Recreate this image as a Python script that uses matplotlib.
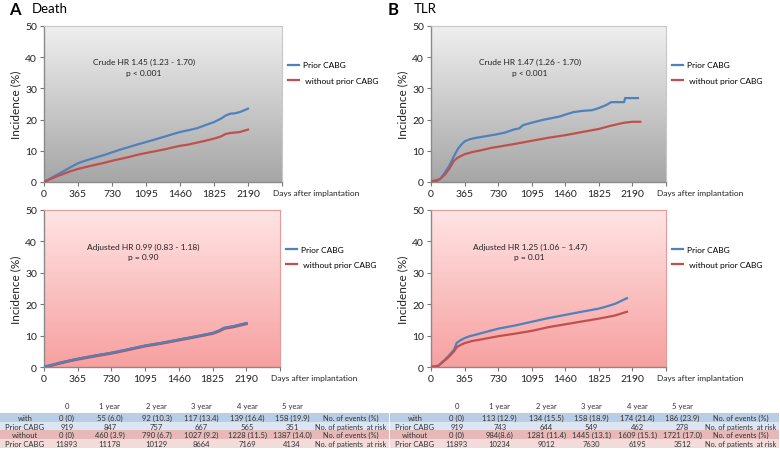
import numpy as np
import matplotlib
matplotlib.use("Agg")
import matplotlib.pyplot as plt
from matplotlib.patches import Rectangle

plt.rcParams['font.family'] = ['Lato', 'DejaVu Sans']

# --- data ---
# Death, crude
death_crude_prior_t = [0, 60, 120, 182, 270, 365, 450, 550, 640, 730, 820, 910, 1000, 1095, 1200, 1300,
                       1400, 1460, 1550, 1640, 1730, 1825, 1900, 1950, 2000, 2050, 2100, 2150, 2190]
death_crude_prior_y = [0, 1.0, 2.0, 3.0, 4.5, 6.0, 6.9, 7.8, 8.6, 9.5, 10.4, 11.2, 12.0, 12.8, 13.7, 14.6,
                       15.5, 16.0, 16.6, 17.2, 18.2, 19.2, 20.3, 21.3, 21.9, 22.0, 22.4, 23.0, 23.5]
death_crude_wo_t = [0, 60, 120, 182, 270, 365, 450, 550, 640, 730, 820, 910, 1000, 1095, 1200, 1300,
                    1400, 1460, 1550, 1640, 1730, 1825, 1900, 1950, 2000, 2100, 2190]
death_crude_wo_y = [0, 0.8, 1.6, 2.3, 3.3, 4.2, 4.8, 5.5, 6.1, 6.8, 7.4, 8.0, 8.7, 9.3, 9.9, 10.5,
                    11.2, 11.6, 12.0, 12.6, 13.2, 13.9, 14.6, 15.4, 15.7, 16.0, 16.8]

# Death, adjusted
death_adj_t = [0, 90, 182, 270, 365, 550, 730, 910, 1095, 1280, 1460, 1640, 1825, 1900, 1950, 2050, 2190]
death_adj_prior_y = [0, 0.7, 1.4, 2.0, 2.6, 3.6, 4.5, 5.6, 6.8, 7.7, 8.7, 9.7, 10.8, 11.6, 12.5, 13.0, 14.0]
death_adj_wo_y = [0, 0.6, 1.3, 1.9, 2.5, 3.5, 4.4, 5.5, 6.7, 7.6, 8.6, 9.6, 10.7, 11.5, 12.3, 12.8, 13.8]

# TLR, crude
tlr_crude_prior_t = [0, 60, 100, 150, 200, 250, 290, 330, 365, 420, 500, 600, 700, 800, 900, 960, 1000,
                     1095, 1200, 1300, 1400, 1460, 1550, 1650, 1750, 1825, 1900, 1960, 2100, 2110, 2250]
tlr_crude_prior_y = [0, 0.3, 1.0, 3.0, 5.3, 8.3, 10.5, 12.0, 13.0, 13.7, 14.2, 14.7, 15.2, 15.8, 16.8, 17.2,
                     18.2, 19.0, 19.8, 20.4, 21.0, 21.6, 22.4, 22.8, 23.0, 23.7, 24.6, 25.6, 25.6, 26.9, 26.9]
tlr_crude_wo_t = [0, 60, 100, 150, 200, 250, 290, 365, 450, 550, 650, 730, 910, 1095, 1280, 1460,
                  1640, 1825, 1950, 2100, 2190, 2275]
tlr_crude_wo_y = [0.2, 0.6, 1.0, 2.3, 4.3, 6.8, 7.8, 8.9, 9.6, 10.2, 10.9, 11.3, 12.2, 13.2, 14.2, 15.0,
                  16.0, 17.0, 18.0, 19.0, 19.3, 19.3]

# TLR, adjusted
tlr_adj_prior_t = [0, 80, 150, 200, 250, 280, 320, 365, 420, 500, 600, 730, 910, 1095, 1280, 1460,
                   1640, 1825, 1900, 2000, 2130]
tlr_adj_prior_y = [0, 0.4, 2.3, 3.8, 5.5, 7.7, 8.5, 9.2, 9.8, 10.4, 11.2, 12.2, 13.2, 14.4, 15.6, 16.6,
                   17.6, 18.6, 19.2, 20.1, 21.9]
tlr_adj_wo_t = [0, 80, 150, 200, 250, 280, 320, 365, 450, 550, 730, 910, 1095, 1280, 1460, 1640,
                1825, 2000, 2130]
tlr_adj_wo_y = [0, 0.4, 2.1, 3.4, 5.0, 6.3, 7.0, 7.6, 8.3, 8.8, 9.8, 10.6, 11.5, 12.7, 13.6, 14.5,
                15.4, 16.4, 17.6]

x_ticks = [0, 365, 730, 1095, 1460, 1825, 2190, 2555]
x_tick_labels = ["0", "365", "730", "1095", "1460", "1825", "2190", ""]
y_ticks = [0, 10, 20, 30, 40, 50]

# tables
table_header = ["0", "1 year", "2 year", "3 year", "4 year", "5 year"]
row_labels = ["with", "Prior CABG", "without", "Prior CABG"]
row_kinds = ["No. of events (%)", "No. of patients  at risk", "No. of events (%)", "No. of patients  at risk"]
death_table = [
    ["0 (0)", "55 (6.0)", "92 (10.3)", "117 (13.4)", "139 (16.4)", "158 (19.9)"],
    ["919", "847", "757", "667", "565", "351"],
    ["0 (0)", "460 (3.9)", "790 (6.7)", "1027 (9.2)", "1228 (11.5)", "1387 (14.0)"],
    ["11893", "11178", "10129", "8664", "7169", "4134"],
]
tlr_table = [
    ["0 (0)", "113 (12.9)", "134 (15.5)", "158 (18.9)", "174 (21.4)", "186 (23.9)"],
    ["919", "743", "644", "549", "462", "278"],
    ["0 (0)", "984(8.6)", "1281 (11.4)", "1445 (13.1)", "1609 (15.1)", "1721 (17.0)"],
    ["11893", "10234", "9012", "7630", "6195", "3512"],
]

BLUE = "#4f81bd"
RED = "#c0504d"
W, H = 780, 452


def fig_rect(x0, y0, x1, y1):
    """pixel box (top-left origin) -> figure fraction rect"""
    return [x0 / W, 1 - y1 / H, (x1 - x0) / W, (y1 - y0) / H]


def gradient_bg(ax, top, bottom):
    top = np.array(matplotlib.colors.to_rgb(top))
    bottom = np.array(matplotlib.colors.to_rgb(bottom))
    f = np.linspace(0, 1, 256)[:, None]
    img = top * (1 - f) + bottom * f
    ax.imshow(img[:, None, :], extent=[0, 1, 0, 1], transform=ax.transAxes,
              aspect='auto', zorder=0, interpolation='bilinear')


def make_panel(rect, bg, edge, curves, note):
    ax = fig.add_axes(fig_rect(*rect))
    gradient_bg(ax, *bg)
    for t, y, c, lw in curves:
        ax.plot(t, y, color=c, lw=lw, zorder=3, solid_joinstyle='round')
    ax.set_xlim(0, 2555)
    ax.set_ylim(0, 50)
    ax.set_xticks(x_ticks)
    ax.set_xticklabels(x_tick_labels)
    ax.set_yticks(y_ticks)
    ax.tick_params(labelsize=7.5, length=3, width=0.8, color="#777777", pad=2, labelcolor="#222222")
    ax.set_ylabel("Incidence (%)", fontsize=8.5, color="#222222", labelpad=3)
    for s in ("left", "bottom"):
        ax.spines[s].set_color("#8a8a8a")
        ax.spines[s].set_linewidth(1.0)
    for s in ("top", "right"):
        ax.spines[s].set_color(edge)
        ax.spines[s].set_linewidth(0.8)
    ax.text(1.145, -0.065, "Days after implantation", transform=ax.transAxes,
            ha='center', va='center', fontsize=6.0, color="#222222")
    ax.text(0.42, 0.77, note[0], transform=ax.transAxes, ha='center', va='center', fontsize=6.0,
            color="#222222")
    ax.text(0.42, 0.705, note[1], transform=ax.transAxes, ha='center', va='center', fontsize=6.0,
            color="#222222")
    h1, = ax.plot([], [], color=BLUE, lw=1.6)
    h2, = ax.plot([], [], color=RED, lw=1.6)
    ax.legend([h1, h2], ["Prior CABG", " without prior CABG"], loc='upper left',
              bbox_to_anchor=(1.0, 0.81), frameon=False, fontsize=6.0, handlelength=1.3,
              handletextpad=0.5, labelspacing=1.0, borderaxespad=0.3)
    return ax


def make_table(x0, x1, data):
    ax = fig.add_axes(fig_rect(x0, 400, x1, 452))
    ax.set_xlim(0, 390)
    ax.set_ylim(452, 400)
    ax.axis('off')
    col_x = [67, 110, 157, 202, 248, 293]
    fills = ["#b9cde5", "#dce6f2", "#e6b9b8", "#f2dcdb"]
    band_top = 414
    band_h = 8.7
    for i, hdr in enumerate(table_header):
        ax.text(col_x[i], 407, hdr, ha='center', va='center', fontsize=5.5, color="#333333")
    for r in range(4):
        y0 = band_top + r * band_h
        ax.add_patch(Rectangle((0, y0), 390, band_h, facecolor=fills[r], edgecolor='none'))
        yc = y0 + band_h / 2
        ax.text(25, yc, row_labels[r], ha='center', va='center', fontsize=5.5, color="#333333")
        for i, v in enumerate(data[r]):
            ax.text(col_x[i], yc, v, ha='center', va='center', fontsize=5.5, color="#333333")
        ax.text(352, yc, row_kinds[r], ha='center', va='center', fontsize=5.3, color="#333333")


fig = plt.figure(figsize=(7.8, 4.52), dpi=100)

gray_bg = ("#efefef", "#a6a6a6")
pink_bg = ("#ffe4e4", "#f7a0a0")

make_panel((44, 27, 282, 183), gray_bg, "#c8c8c8",
           [(death_crude_prior_t, death_crude_prior_y, BLUE, 1.6),
            (death_crude_wo_t, death_crude_wo_y, RED, 1.6)],
           ("Crude HR 1.45 (1.23 - 1.70)", "p < 0.001"))
make_panel((44, 211, 280, 368), pink_bg, "#e89a9a",
           [(death_adj_t, death_adj_wo_y, RED, 2.2),
            (death_adj_t, death_adj_prior_y, BLUE, 1.6)],
           ("Adjusted HR 0.99 (0.83 - 1.18)", "p = 0.90"))
make_panel((431, 27, 666, 183), gray_bg, "#c8c8c8",
           [(tlr_crude_prior_t, tlr_crude_prior_y, BLUE, 1.6),
            (tlr_crude_wo_t, tlr_crude_wo_y, RED, 1.6)],
           ("Crude HR 1.47 (1.26 - 1.70)", "p < 0.001"))
make_panel((431, 211, 666, 368), pink_bg, "#e89a9a",
           [(tlr_adj_prior_t, tlr_adj_prior_y, BLUE, 1.6),
            (tlr_adj_wo_t, tlr_adj_wo_y, RED, 1.6)],
           ("Adjusted HR 1.25 (1.06 \u2013 1.47)", "p = 0.01"))

# panel titles
fig.text(9 / W, 1 - 10 / H, "A", fontsize=12, fontweight='bold', ha='left', va='center')
fig.text(32 / W, 1 - 9 / H, "Death", fontsize=9.5, ha='left', va='center')
fig.text(388 / W, 1 - 10 / H, "B", fontsize=12, fontweight='bold', ha='left', va='center')
fig.text(414 / W, 1 - 9 / H, "TLR", fontsize=9.5, ha='left', va='center')

make_table(0, 389, death_table)
make_table(390, 779, tlr_table)

fig.savefig("out.png", dpi=100)
